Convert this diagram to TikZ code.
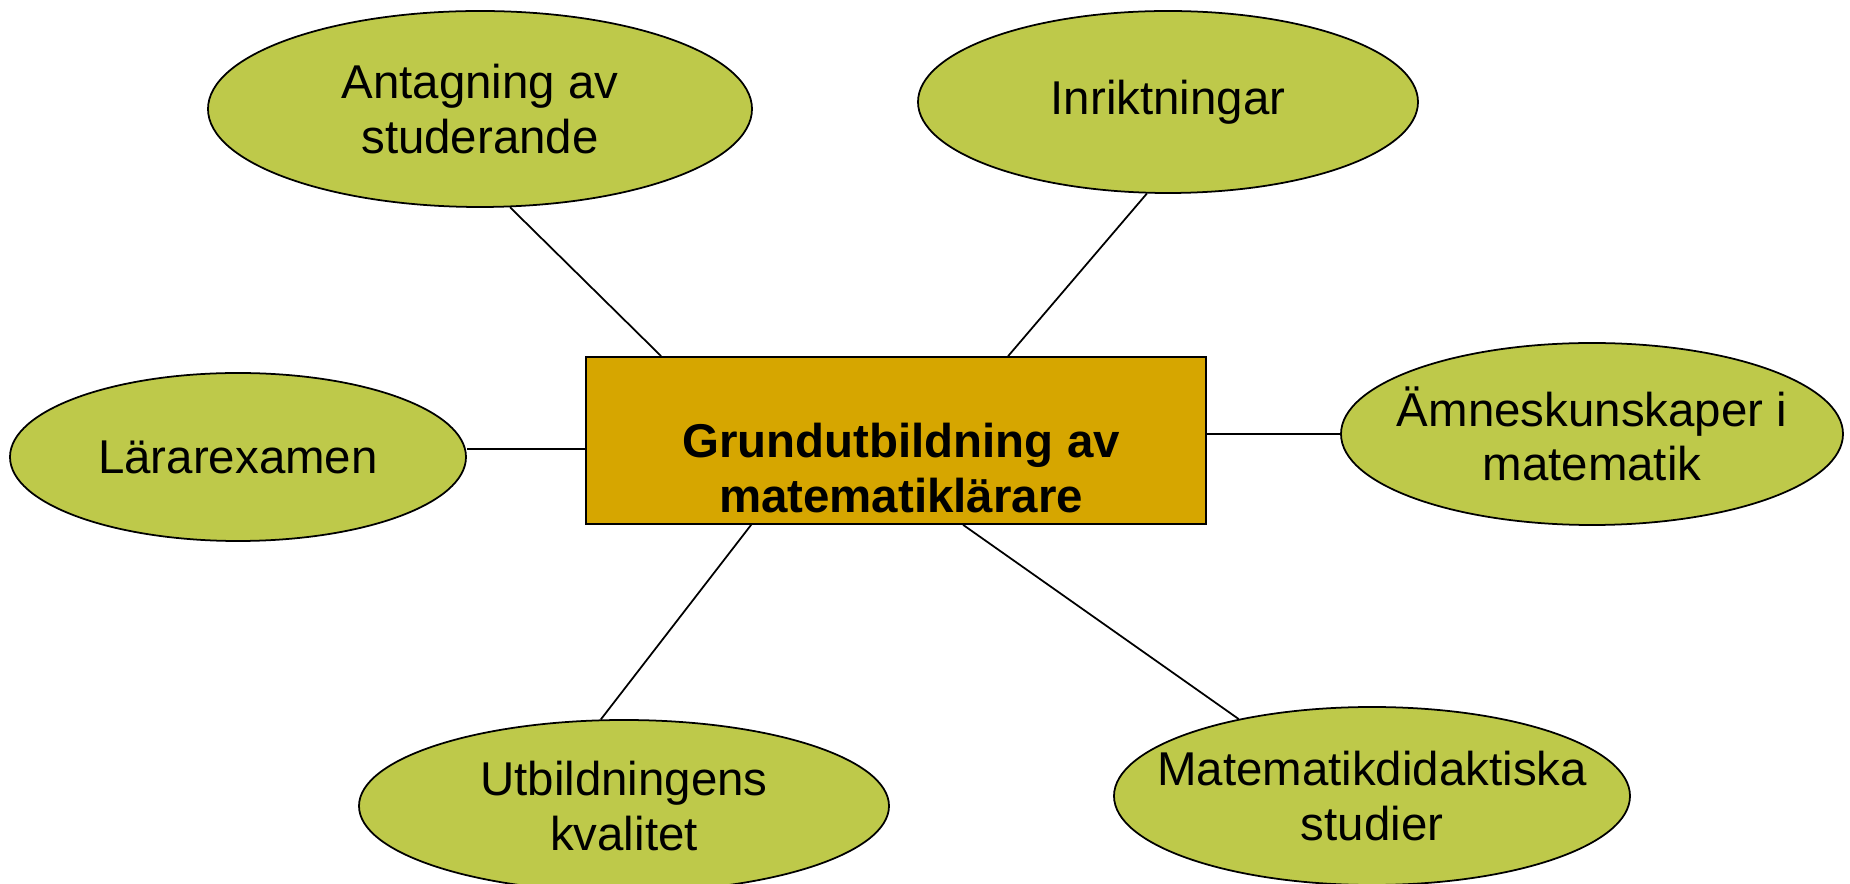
\documentclass[tikz,border=0pt]{standalone}
\usepackage{fontspec}
\setmainfont{Liberation Sans}
\usetikzlibrary{shapes.geometric}
\definecolor{leaf}{RGB}{190,201,74}
\definecolor{gold}{RGB}{214,166,0}
\tikzset{
  topic/.style={ellipse, draw=black, line width=1pt, fill=leaf, inner sep=0pt},
  hub/.style={rectangle, draw=black, line width=1pt, fill=gold, inner sep=0pt, minimum width=12.4cm, minimum height=3.34cm},
  label/.style={align=center, font=\fontsize{27}{31}\selectfont, inner sep=0pt},
  link/.style={draw=black, line width=1pt}
}
\begin{document}
\begin{tikzpicture}
\clip (0,0) rectangle (37,-17.68);
\fill[white] (0,0) rectangle (37,-17.68);
% central box
\node[hub] (main) at (17.92,-8.81) {};
\node[label, font=\fontsize{27}{31}\selectfont\bfseries] (maintext) at ([xshift=0.1cm,yshift=-0.55cm]main.center) {Grundutbildning av\\matematiklärare};
% topics
\node[topic, minimum width=10.88cm, minimum height=3.92cm] (a) at (9.60,-2.18) {};
\node[label] (at) at (a.center) {Antagning av\\studerande};
\node[topic, minimum width=10.0cm, minimum height=3.64cm] (b) at (23.36,-2.04) {};
\node[label] (bt) at (b.center) {Inriktningar};
\node[topic, minimum width=9.12cm, minimum height=3.36cm] (c) at (4.76,-9.14) {};
\node[label] (ct) at (c.center) {Lärarexamen};
\node[topic, minimum width=10.04cm, minimum height=3.64cm] (d) at (31.84,-8.68) {};
\node[label] (dt) at (d.center) {Ämneskunskaper i\\matematik};
\node[topic, minimum width=10.6cm, minimum height=3.44cm] (e) at (12.48,-16.12) {};
\node[label] (et) at (e.center) {Utbildningens\\kvalitet};
\node[topic, minimum width=10.32cm, minimum height=3.56cm] (f) at (27.44,-15.92) {};
\node[label] (ft) at (f.center) {Matematikdidaktiska\\studier};
% connectors
\draw[link] (a.-73) -- ([xshift=1.52cm]main.north west);
\draw[link] (b.-103.7) -- ([xshift=8.46cm]main.north west);
\draw[link] ([yshift=-0.17cm]main.west) -- ([yshift=-0.17cm]main.west -| c.east);
\draw[link] ([yshift=0.13cm]main.east) -- ([yshift=0.13cm]main.east -| d.west);
\draw[link] (e.105.6) -- ([xshift=3.32cm]main.south west);
\draw[link] (f.150.5) -- ([xshift=7.56cm]main.south west);
\end{tikzpicture}
\end{document}
